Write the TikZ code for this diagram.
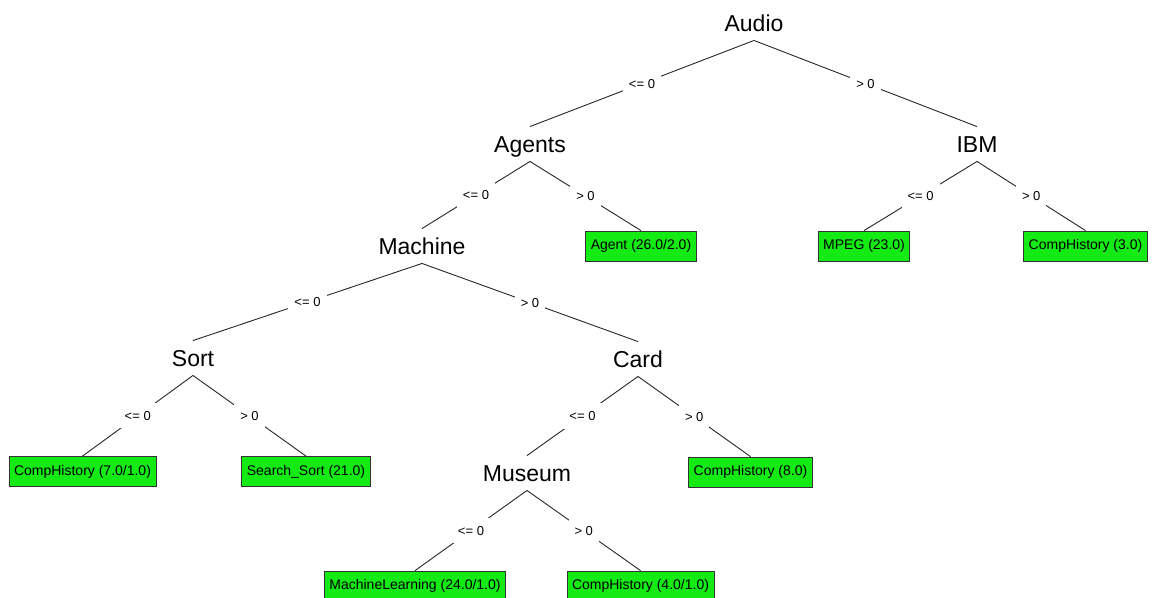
\documentclass[tikz,border=0pt]{standalone}
\usepackage{fontspec}
\setmainfont{Liberation Sans}
\definecolor{leafgreen}{RGB}{20,235,20}
\begin{document}
\begin{tikzpicture}[x=1pt,y=-1pt,
  split/.style={inner xsep=2pt, inner ysep=9pt, text height=16.5pt, text depth=0pt, font=\fontsize{23}{27}\selectfont},
  leaf/.style={draw=black!80, line width=0.8pt, fill=leafgreen, inner xsep=5pt, minimum height=30pt, font=\fontsize{14}{16}\selectfont},
  cond/.style={fill=white, inner xsep=6pt, inner ysep=8pt, text height=9.4pt, text depth=0pt, font=\fontsize{13}{15}\selectfont},
  branch/.style={draw=black!85, line width=0.9pt}]
\useasboundingbox (0,0) rectangle (1153,597);

\node[split](audio) at (754,23) {Audio};
\node[split](agents) at (530,144) {Agents};
\node[split](ibm) at (977,144) {IBM};
\node[split](machine) at (422,246) {Machine};
\node[leaf](agent) at (641,246) {Agent (26.0/2.0)};
\node[leaf](mpeg) at (864,246) {MPEG (23.0)};
\node[leaf](hist3) at (1085.5,246) {CompHistory (3.0)};
\node[split](sort) at (193,358) {Sort};
\node[split](card) at (638,359) {Card};
\node[leaf](hist7) at (82.5,471.5) {CompHistory (7.0/1.0)};
\node[leaf](search) at (306,471.5) {Search\_Sort (21.0)};
\node[split](museum) at (527,473) {Museum};
\node[leaf](hist8) at (750.5,472) {CompHistory (8.0)};
\node[leaf](learning) at (415,586) {MachineLearning (24.0/1.0)};
\node[leaf](hist4) at (640.5,586) {CompHistory (4.0/1.0)};

\draw[branch] (audio.south)--node[cond]{<= 0} (agents.north);
\draw[branch] (audio.south)--node[cond]{> 0} (ibm.north);
\draw[branch] (agents.south)--node[cond]{<= 0} (machine.north);
\draw[branch] (agents.south)--node[cond]{> 0} (agent.north);
\draw[branch] (ibm.south)--node[cond]{<= 0} (mpeg.north);
\draw[branch] (ibm.south)--node[cond]{> 0} (hist3.north);
\draw[branch] (machine.south)--node[cond]{<= 0} (sort.north);
\draw[branch] (machine.south)--node[cond]{> 0} (card.north);
\draw[branch] (sort.south)--node[cond]{<= 0} (hist7.north);
\draw[branch] (sort.south)--node[cond]{> 0} (search.north);
\draw[branch] (card.south)--node[cond]{<= 0} (museum.north);
\draw[branch] (card.south)--node[cond]{> 0} (hist8.north);
\draw[branch] (museum.south)--node[cond]{<= 0} (learning.north);
\draw[branch] (museum.south)--node[cond]{> 0} (hist4.north);
\end{tikzpicture}
\end{document}
